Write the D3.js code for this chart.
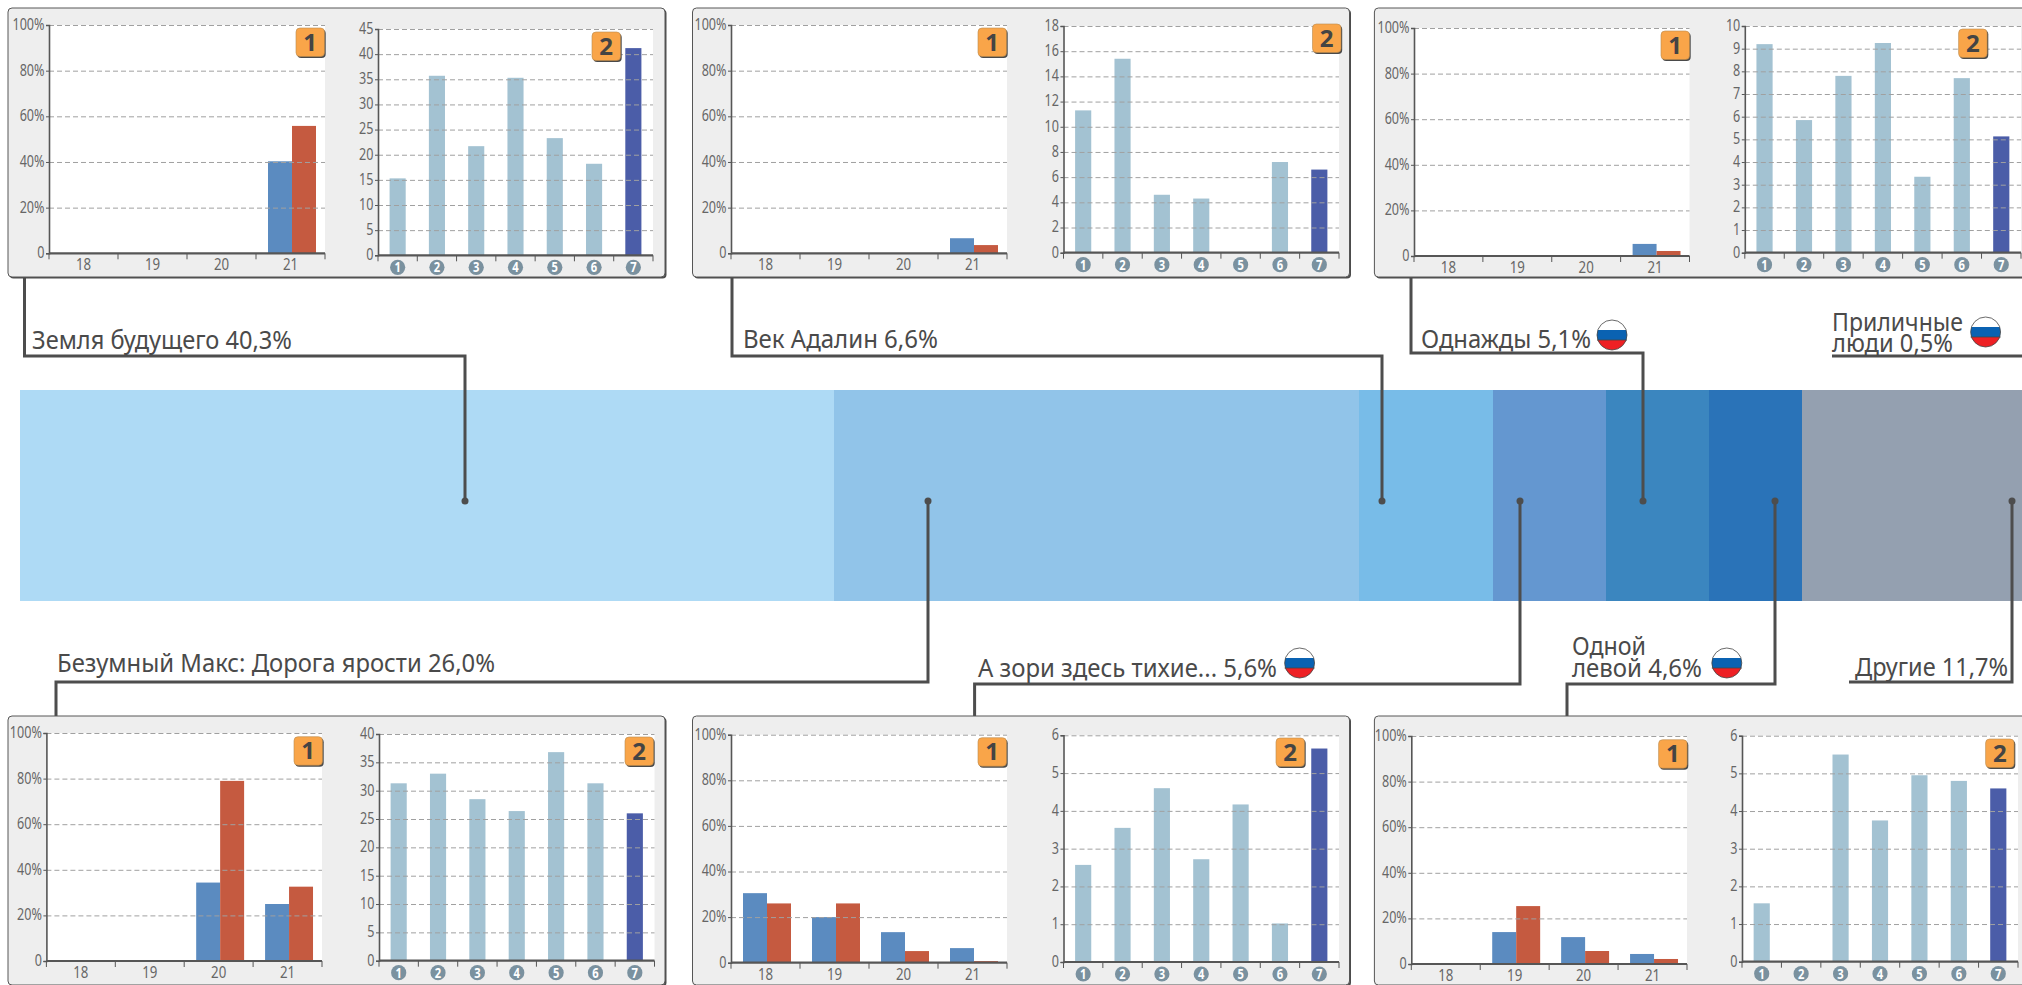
<!DOCTYPE html>
<html>
<head>
<meta charset="utf-8">
<script src="https://cdn.jsdelivr.net/npm/d3@7"></script>
<style>
  html, body { margin: 0; padding: 0; background: #fff; overflow: hidden; }
  svg { display: block; }
  text { font-family: "Noto Sans", "Open Sans", sans-serif; fill: #666; }
</style>
</head>
<body>
<div id="chart"></div>
<script>
// Shared categories
const ageGroups = ['18', '19', '20', '21'];
const weekNumbers = ['1', '2', '3', '4', '5', '6', '7'];

// Market share strip
const shareValues = [40.3, 26.0, 6.6, 5.6, 5.1, 4.6, 12.2];
const shareColors = ['#aedaf5', '#91c4e9', '#78bce8', '#6497d0', '#3b86bf', '#2a73b8', '#94a0b0'];

// Chart 1 of each panel: blue and red share by age group
const earthBlue = [0, 0, 0, 40.3];
const earthRed = [0, 0, 0, 55.8];
const madMaxBlue = [0, 0, 34.4, 25];
const madMaxRed = [0, 0, 79, 32.6];
const adalineBlue = [0, 0, 0, 6.6];
const adalineRed = [0, 0, 0, 3.6];
const dawnsBlue = [30.5, 20, 13.4, 6.4];
const dawnsRed = [26, 26, 5.1, 0.7];
const onceBlue = [0, 0, 0, 5.3];
const onceRed = [0, 0, 0, 2.2];
const leftyBlue = [0, 14, 11.8, 4.4];
const leftyRed = [0, 25.4, 5.7, 2.2];

// Chart 2 of each panel: values by number
const earthWeeks = [15.3, 35.7, 21.7, 35.3, 23.3, 18.2, 41.2];
const madMaxWeeks = [31.3, 33, 28.5, 26.4, 36.8, 31.3, 26];
const adalineWeeks = [11.3, 15.4, 4.6, 4.3, 0, 7.2, 6.6];
const dawnsWeeks = [2.57, 3.55, 4.6, 2.72, 4.17, 1.02, 5.65];
const onceWeeks = [9.2, 5.85, 7.8, 9.25, 3.35, 7.7, 5.13];
const leftyWeeks = [1.55, 0, 5.5, 3.75, 4.95, 4.8, 4.6];

// Y tick labels
const percentTicks = [0, 20, 40, 60, 80, 100];
const earthTicks = [0, 5, 10, 15, 20, 25, 30, 35, 40, 45];
const madMaxTicks = [0, 5, 10, 15, 20, 25, 30, 35, 40];
const adalineTicks = [0, 2, 4, 6, 8, 10, 12, 14, 16, 18];
const dawnsTicks = [0, 1, 2, 3, 4, 5, 6];
const onceTicks = [0, 1, 2, 3, 4, 5, 6, 7, 8, 9, 10];
const leftyTicks = [0, 1, 2, 3, 4, 5, 6];

const width = 2022;
const height = 985;

const colors = {
  panel: '#eeeeee',
  border: '#565656',
  blue: '#5b8bc0',
  red: '#c55a40',
  week: '#a3c2d2',
  lastWeek: '#4b5da8',
  circle: '#7a919f',
  badge: '#f9a549',
  line: '#4d4d4d',
  grid: '#a0a0a0'
};

// Panel placement
const panels = [
  { x: 8, y: 8, blue: earthBlue, red: earthRed, weeks: earthWeeks, ticks: earthTicks,
    c1: { x0: 49, x1: 325, top: 25, base: 253.3, badge: [296, 28] },
    c2: { x0: 378, x1: 653, top: 29, base: 255.3, badge: [592, 32] } },
  { x: 692.5, y: 8, blue: adalineBlue, red: adalineRed, weeks: adalineWeeks, ticks: adalineTicks,
    c1: { x0: 731, x1: 1007, top: 25, base: 253.3, badge: [978, 28] },
    c2: { x0: 1063.5, x1: 1339, top: 26, base: 252.7, badge: [1312.5, 24] } },
  { x: 1374.4, y: 8, blue: onceBlue, red: onceRed, weeks: onceWeeks, ticks: onceTicks,
    c1: { x0: 1414, x1: 1689.5, top: 28, base: 256, badge: [1661, 31] },
    c2: { x0: 1744.8, x1: 2021, top: 26, base: 252.7, badge: [1958.6, 29] } },
  { x: 8, y: 716, blue: madMaxBlue, red: madMaxRed, weeks: madMaxWeeks, ticks: madMaxTicks,
    c1: { x0: 46.4, x1: 322, top: 733, base: 961, badge: [294, 736.7] },
    c2: { x0: 379, x1: 654.5, top: 734, base: 960.7, badge: [625, 737] } },
  { x: 692.5, y: 716, blue: dawnsBlue, red: dawnsRed, weeks: dawnsWeeks, ticks: dawnsTicks,
    c1: { x0: 731, x1: 1007, top: 734.7, base: 962.7, badge: [978, 737.7] },
    c2: { x0: 1063.5, x1: 1339, top: 735.3, base: 962, badge: [1276, 738] } },
  { x: 1374.4, y: 716, blue: leftyBlue, red: leftyRed, weeks: leftyWeeks, ticks: leftyTicks,
    c1: { x0: 1411.3, x1: 1687, top: 736, base: 964, badge: [1658.6, 739.7] },
    c2: { x0: 1742, x1: 2018, top: 735.7, base: 961.7, badge: [1985.6, 739] } }
];

// Leader lines from the strip to the panels
const leaders = [
  { points: [[24.5, 277], [24.5, 356], [465, 356], [465, 501]], dot: true },
  { points: [[56, 716], [56, 682], [928, 682], [928, 501]], dot: true },
  { points: [[732, 277], [732, 356], [1382, 356], [1382, 501]], dot: true },
  { points: [[974.6, 716], [974.6, 684], [1520, 684], [1520, 501]], dot: true },
  { points: [[1411, 277], [1411, 353], [1643, 353], [1643, 501]], dot: true },
  { points: [[1567, 716], [1567, 684], [1775, 684], [1775, 501]], dot: true },
  { points: [[1849, 682], [2012, 682], [2012, 501]], dot: true },
  { points: [[1832, 356], [2022, 356]], dot: false }
];

// Film labels, one text per line
const labels = [
  { text: 'Земля будущего 40,3%', x: 32, y: 349, w: 260 },
  { text: 'Безумный Макс: Дорога ярости 26,0%', x: 57, y: 672, w: 438 },
  { text: 'Век Адалин 6,6%', x: 743, y: 348, w: 195 },
  { text: 'А зори здесь тихие... 5,6%', x: 978, y: 677, w: 299 },
  { text: 'Однажды 5,1%', x: 1421, y: 348, w: 170 },
  { text: 'Приличные', x: 1832, y: 331, w: 131 },
  { text: 'люди 0,5%', x: 1832, y: 352, w: 121 },
  { text: 'Одной', x: 1572, y: 655, w: 74 },
  { text: 'левой 4,6%', x: 1572, y: 677, w: 130 },
  { text: 'Другие 11,7%', x: 1855, y: 676, w: 153 }
];

const flags = [[1299.6, 663], [1612, 335], [1985.6, 332], [1726.8, 663]];

const svg = d3.select('#chart').append('svg')
  .attr('width', width)
  .attr('height', height)
  .attr('viewBox', `0 0 ${width} ${height}`);

svg.append('clipPath').attr('id', 'flag-clip')
  .append('circle').attr('r', 15);

// The original face is a narrow one, so squeeze the wider installed font to fit
function squeeze(selection, factor) {
  selection.each(function () {
    d3.select(this)
      .attr('textLength', this.getComputedTextLength() * factor)
      .attr('lengthAdjust', 'spacingAndGlyphs');
  });
}

// Strip
const stripScale = d3.scaleLinear().domain([0, 100]).range([20, 2040]);
const stripTop = 390;
const stripBottom = 601;
let running = 0;
const stripData = shareValues.map((value, i) => {
  const start = running;
  running += value;
  return { start, end: running, color: shareColors[i] };
});

svg.append('g').selectAll('rect')
  .data(stripData)
  .join('rect')
    .attr('x', d => stripScale(d.start))
    .attr('width', d => stripScale(d.end) - stripScale(d.start))
    .attr('y', stripTop)
    .attr('height', stripBottom - stripTop)
    .attr('fill', d => d.color)
    .attr('shape-rendering', 'crispEdges');

// Leaders
const leaderLine = d3.line().curve(d3.curveLinear);
const leaderGroup = svg.append('g');
leaders.forEach(leader => {
  leaderGroup.append('path')
    .attr('d', leaderLine(leader.points))
    .attr('fill', 'none')
    .attr('stroke', colors.line)
    .attr('stroke-width', 3);
  if (leader.dot) {
    const end = leader.points[leader.points.length - 1];
    leaderGroup.append('circle')
      .attr('cx', end[0])
      .attr('cy', end[1])
      .attr('r', 3.5)
      .attr('fill', colors.line);
  }
});

function drawBadge(g, pos, label) {
  const badge = g.append('g').attr('transform', `translate(${pos[0]},${pos[1]})`);
  badge.append('rect')
    .attr('x', 1.2).attr('y', 1.5)
    .attr('width', 28.5).attr('height', 28.5)
    .attr('rx', 4)
    .attr('fill', '#4a4a4a');
  badge.append('rect')
    .attr('width', 28.5).attr('height', 28.5)
    .attr('rx', 4)
    .attr('fill', colors.badge)
    .attr('stroke', '#b98a4e')
    .attr('stroke-width', 0.6);
  badge.append('text')
    .attr('x', 14.2).attr('y', 22.5)
    .attr('text-anchor', 'middle')
    .style('font-weight', 700)
    .style('font-size', '24px')
    .style('fill', '#444')
    .text(label);
}

function drawYAxis(g, y, tickValues, w, format) {
  g.append('g')
    .call(d3.axisLeft(y).tickValues(tickValues).tickSize(-w).tickFormat(''))
    .call(a => a.select('.domain').remove())
    .call(a => a.selectAll('line')
      .filter(d => d !== 0)
      .attr('stroke', colors.grid)
      .attr('stroke-dasharray', '5 3'))
    .call(a => a.selectAll('line').filter(d => d === 0).remove());

  g.append('g')
    .call(d3.axisLeft(y).tickValues(tickValues).tickSize(3).tickPadding(1.5).tickFormat(format))
    .call(a => a.select('.domain').attr('stroke', colors.border).attr('stroke-width', 1.6))
    .call(a => a.selectAll('line').attr('stroke', colors.border))
    .call(a => a.selectAll('text')
      .attr('dy', '0.26em')
      .style('font-size', '17px')
      .style('fill', '#666')
      .call(squeeze, 0.74));
}

function drawXAxis(g, x, h, w) {
  const axis = g.append('g')
    .attr('transform', `translate(0,${h})`)
    .call(d3.axisBottom(x).tickSize(0).tickPadding(5));
  axis.select('.domain').remove();
  axis.selectAll('text').style('font-size', '17px').style('fill', '#666');

  const edges = d3.range(x.domain().length + 1).map(i => i * x.step());
  axis.selectAll('.edge')
    .data(edges)
    .join('line')
      .attr('class', 'edge')
      .attr('x1', d => d).attr('x2', d => d)
      .attr('y1', 0).attr('y2', 6)
      .attr('stroke', colors.border);

  axis.append('line')
    .attr('x1', 0).attr('x2', w)
    .attr('stroke', colors.border)
    .attr('stroke-width', 2.2);
  return axis;
}

function drawChartOne(root, spec, blue, red) {
  const w = spec.x1 - spec.x0;
  const h = spec.base - spec.top;
  const g = root.append('g').attr('transform', `translate(${spec.x0},${spec.top})`);

  g.append('rect').attr('width', w).attr('height', h).attr('fill', '#fff');

  const x = d3.scaleBand().domain(ageGroups).range([0, w]);
  const y = d3.scaleLinear().domain([0, 100]).range([h, 0]);
  const side = d3.scaleBand().domain(['blue', 'red']).range([0, x.bandwidth()]).paddingOuter(0.4375);

  const rows = ageGroups.map((age, i) => ({ age, blue: blue[i], red: red[i] }));

  const bars = g.append('g').attr('transform', 'translate(1.5,0)');
  ['blue', 'red'].forEach(key => {
    bars.selectAll(`.${key}`)
      .data(rows.filter(d => d[key] > 0))
      .join('rect')
        .attr('class', key)
        .attr('x', d => x(d.age) + side(key))
        .attr('width', side.bandwidth())
        .attr('y', d => y(d[key]))
        .attr('height', d => h - y(d[key]))
        .attr('fill', colors[key]);
  });

  drawYAxis(g, y, percentTicks, w, d => d === 0 ? '0' : `${d}%`);
  const axis = drawXAxis(g, x, h, w);
  axis.selectAll('.tick text').call(squeeze, 0.78);
}

function drawChartTwo(root, spec, values, ticks) {
  const w = spec.x1 - spec.x0;
  const h = spec.base - spec.top;
  const g = root.append('g').attr('transform', `translate(${spec.x0},${spec.top})`);

  g.append('rect').attr('width', w).attr('height', h).attr('fill', '#fff');

  const x = d3.scaleBand().domain(weekNumbers).range([0, w]).paddingInner(0.59).paddingOuter(0.295);
  const y = d3.scaleLinear().domain([0, d3.max(ticks)]).range([h, 0]);

  const rows = weekNumbers.map((week, i) => ({ week, value: values[i] }));

  g.append('g').selectAll('rect')
    .data(rows.filter(d => d.value > 0))
    .join('rect')
      .attr('x', d => x(d.week))
      .attr('width', x.bandwidth())
      .attr('y', d => y(d.value))
      .attr('height', d => h - y(d.value))
      .attr('fill', d => d.week === '7' ? colors.lastWeek : colors.week);

  drawYAxis(g, y, ticks, w, d => d);

  const axis = drawXAxis(g, x, h, w);
  axis.selectAll('.tick').insert('circle', 'text')
    .attr('cy', 12)
    .attr('r', 7.6)
    .attr('fill', colors.circle);
  axis.selectAll('.tick text')
    .attr('y', 12)
    .attr('dy', '0.36em')
    .style('font-weight', 700)
    .style('font-size', '14px')
    .style('fill', '#fff')
    .call(squeeze, 0.8);
}

panels.forEach(panel => {
  const root = svg.append('g');

  root.append('rect')
    .attr('x', panel.x + 1.5).attr('y', panel.y + 1.5)
    .attr('width', 657).attr('height', 269)
    .attr('rx', 4)
    .attr('fill', '#4c4c4c');
  root.append('rect')
    .attr('x', panel.x).attr('y', panel.y)
    .attr('width', 657).attr('height', 269)
    .attr('rx', 4)
    .attr('fill', colors.panel)
    .attr('stroke', colors.border)
    .attr('stroke-width', 1);

  drawChartOne(root, panel.c1, panel.blue, panel.red);
  drawChartTwo(root, panel.c2, panel.weeks, panel.ticks);
  drawBadge(root, panel.c1.badge, '1');
  drawBadge(root, panel.c2.badge, '2');
});

// Film labels
svg.append('g').selectAll('text')
  .data(labels)
  .join('text')
    .attr('x', d => d.x)
    .attr('y', d => d.y)
    .attr('textLength', d => d.w)
    .attr('lengthAdjust', 'spacingAndGlyphs')
    .style('font-size', '25px')
    .style('fill', '#4a4a4a')
    .text(d => d.text);

// Russian flag markers
flags.forEach(pos => {
  const flag = svg.append('g').attr('transform', `translate(${pos[0]},${pos[1]})`);
  const stripes = flag.append('g').attr('clip-path', 'url(#flag-clip)');
  stripes.append('rect').attr('x', -15).attr('y', -15).attr('width', 30).attr('height', 10).attr('fill', '#fff');
  stripes.append('rect').attr('x', -15).attr('y', -5).attr('width', 30).attr('height', 10).attr('fill', '#0a62b2');
  stripes.append('rect').attr('x', -15).attr('y', 5).attr('width', 30).attr('height', 10).attr('fill', '#ee2024');
  flag.append('line').attr('x1', -15).attr('x2', 15).attr('y1', 5).attr('y2', 5).attr('stroke', '#444').attr('stroke-width', 0.8);
  flag.append('circle').attr('r', 15).attr('fill', 'none').attr('stroke', '#444').attr('stroke-width', 0.8);
});
</script>
</body>
</html>
